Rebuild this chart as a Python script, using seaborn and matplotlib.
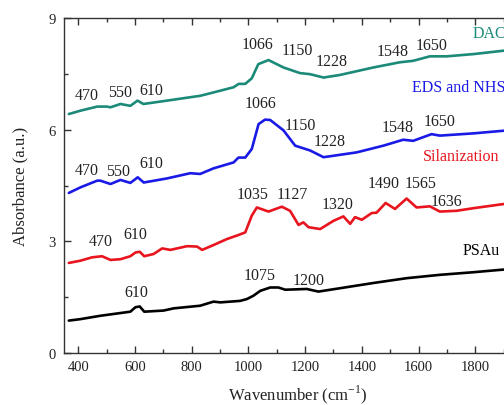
import seaborn as sns
import matplotlib.pyplot as plt
import numpy as np
import pandas as pd
from matplotlib.ticker import MultipleLocator, FixedLocator

# FTIR spectra, values
dac_wn = [367, 408, 467, 502, 514, 549, 584, 609, 630, 713, 830, 877, 948, 966, 989, 1012, 1035,
          1071, 1124, 1182, 1218, 1265, 1323, 1440, 1534, 1581, 1640, 1699, 1793, 1898, 1960]
dac_abs = [6.42, 6.51, 6.62, 6.62, 6.60, 6.69, 6.64, 6.78, 6.69, 6.78, 6.91, 7.00, 7.14, 7.23, 7.23, 7.38, 7.76,
           7.87, 7.67, 7.52, 7.49, 7.40, 7.47, 7.67, 7.81, 7.85, 7.97, 7.97, 8.03, 8.12, 8.16]

eds_wn = [367, 408, 467, 478, 514, 549, 584, 610, 631, 713, 795, 830, 877, 948, 965, 989, 1012, 1036,
          1059, 1077, 1124, 1165, 1218, 1265, 1382, 1476, 1546, 1581, 1646, 1675, 1793, 1898, 1960]
eds_abs = [4.30, 4.45, 4.63, 4.63, 4.54, 4.65, 4.57, 4.72, 4.58, 4.69, 4.83, 4.81, 4.96, 5.12, 5.25, 5.25, 5.48, 6.15,
           6.27, 6.26, 5.98, 5.57, 5.44, 5.26, 5.39, 5.57, 5.73, 5.70, 5.88, 5.84, 5.90, 5.97, 6.00]

sil_wn = [367, 408, 449, 484, 514, 549, 584, 602, 617, 633, 666, 696, 725, 784, 819, 837, 877, 924, 965, 989,
          1012, 1030, 1071, 1118, 1147, 1177, 1194, 1212, 1253, 1300, 1335, 1359, 1376, 1400, 1435, 1452,
          1484, 1517, 1558, 1593, 1640, 1675, 1734, 1793, 1898, 1960]
sil_abs = [2.42, 2.48, 2.57, 2.60, 2.50, 2.52, 2.60, 2.70, 2.72, 2.60, 2.66, 2.81, 2.77, 2.87, 2.86, 2.77, 2.90, 3.06, 3.17, 3.24,
           3.69, 3.91, 3.80, 3.93, 3.82, 3.44, 3.51, 3.38, 3.33, 3.55, 3.67, 3.47, 3.65, 3.58, 3.76, 3.77,
           4.03, 3.87, 4.15, 3.91, 3.94, 3.80, 3.82, 3.89, 4.00, 4.04]

psau_wn = [367, 408, 478, 584, 602, 617, 633, 701, 737, 830, 877, 901, 971, 995, 1018, 1042, 1077, 1106,
           1130, 1206, 1247, 1323, 1440, 1558, 1675, 1793, 1898, 1960]
psau_abs = [0.87, 0.91, 1.00, 1.11, 1.23, 1.25, 1.11, 1.14, 1.20, 1.27, 1.38, 1.36, 1.40, 1.45, 1.54, 1.67, 1.76, 1.76,
            1.70, 1.72, 1.65, 1.74, 1.88, 2.01, 2.10, 2.17, 2.24, 2.27]

samples = ["DAC", "EDS and NHS", "Silanization", "PSAu"]
colors = {"DAC": "#1b8a78", "EDS and NHS": "#1a1ae6", "Silanization": "#e8141e", "PSAu": "#000000"}
x_ticks = [400, 600, 800, 1000, 1200, 1400, 1600, 1800]

# peak labels: (text, x, y)
peak_labels = {
    "DAC": [("470", 429, 6.93), ("550", 549, 7.01), ("610", 658, 7.06), ("1066", 1031, 8.30),
            ("1150", 1172, 8.14), ("1228", 1295, 7.84), ("1548", 1510, 8.11), ("1650", 1647, 8.27)],
    "EDS and NHS": [("470", 429, 4.92), ("550", 542, 4.89), ("610", 658, 5.10), ("1066", 1042, 6.72),
                    ("1150", 1183, 6.12), ("1228", 1285, 5.69), ("1548", 1527, 6.07), ("1650", 1675, 6.23)],
    "Silanization": [("470", 479, 3.01), ("610", 602, 3.20), ("1035", 1014, 4.27), ("1127", 1155, 4.27),
                     ("1320", 1316, 4.00), ("1490", 1478, 4.57), ("1565", 1608, 4.57), ("1636", 1700, 4.08)],
    "PSAu": [("610", 605, 1.64), ("1075", 1039, 2.10), ("1200", 1211, 1.96)],
}
# series names written next to the curves
name_pos = {"DAC": (1792, 8.60), "EDS and NHS": (1577, 7.14), "Silanization": (1616, 5.29), "PSAu": (1756, 2.77)}

frames = []
for name, wn, ab in [("DAC", dac_wn, dac_abs), ("EDS and NHS", eds_wn, eds_abs),
                     ("Silanization", sil_wn, sil_abs), ("PSAu", psau_wn, psau_abs)]:
    frames.append(pd.DataFrame({"wn": wn, "abs": ab, "sample": name}))
df = pd.concat(frames, ignore_index=True)

sns.set_style("ticks")
plt.rcParams["font.family"] = ["Liberation Serif", "DejaVu Serif"]
plt.rcParams["mathtext.fontset"] = "custom"
plt.rcParams["mathtext.rm"] = "Liberation Serif"

fig = plt.figure(figsize=(5.04, 4.06), dpi=100)
# the original picture is cropped on the right, so the axes run past the figure edge
ax = fig.add_axes([64 / 504, 52 / 406, 468 / 504, 335 / 406])

sns.lineplot(data=df, x="wn", y="abs", hue="sample", hue_order=samples, palette=colors,
             sort=False, estimator=None, linewidth=1.9, legend=False, ax=ax)

for name in samples:
    for txt, x, y in peak_labels[name]:
        ax.text(x, y, txt, fontsize=11.5, ha="center", va="center", color="#222222")
    nx, ny = name_pos[name]
    ax.text(nx, ny, name, fontsize=11.5, ha="left", va="center", color=colors[name])

ax.set_xlim(350, 2000)
ax.set_ylim(0, 9)
ax.xaxis.set_major_locator(FixedLocator(x_ticks))
ax.xaxis.set_minor_locator(MultipleLocator(100))
ax.yaxis.set_major_locator(MultipleLocator(3))
ax.yaxis.set_minor_locator(MultipleLocator(1.5))
ax.tick_params(which="both", direction="in", top=True, right=True, colors="#333333",
               labelsize=10.5, labelcolor="#222222")
ax.tick_params(which="major", length=5, width=1)
ax.tick_params(which="minor", length=3, width=1)
ax.tick_params(axis="x", pad=5)
ax.tick_params(axis="y", pad=6)
for s in ax.spines.values():
    s.set_linewidth(1)
    s.set_color("#333333")

ax.set_xlabel("Wavenumber (cm$^{-1}$)", fontsize=12, color="#222222", labelpad=7)
ax.set_ylabel("Absorbance (a.u.)", fontsize=12, color="#222222", labelpad=14)

plt.savefig("out.png", dpi=100)
